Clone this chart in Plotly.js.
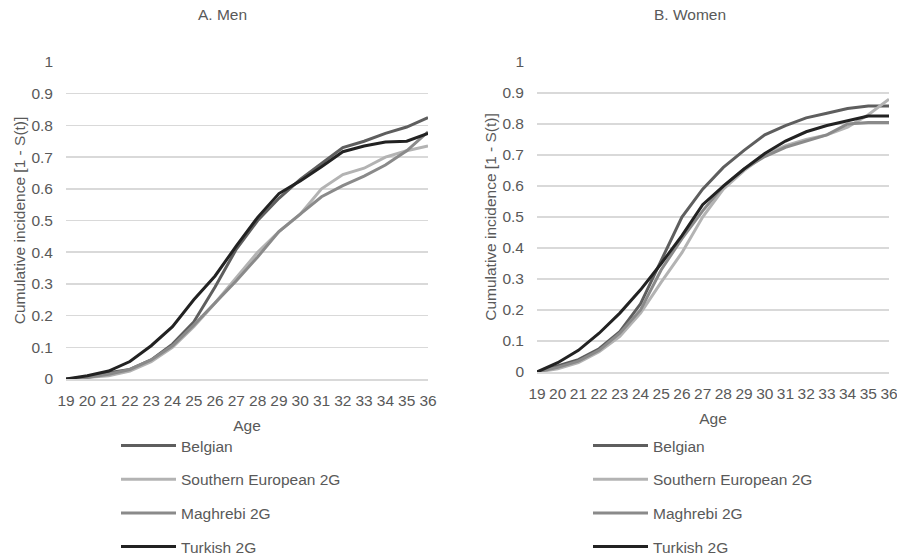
<!DOCTYPE html>
<html>
<head>
<meta charset="utf-8">
<script src="https://cdn.plot.ly/plotly-3.0.1.min.js"></script>
<style>html,body{margin:0;padding:0;background:#fff}#chart{width:897px;height:555px}</style>
</head>
<body>
<div id="chart"></div>
<script>
const ages = ["19","20","21","22","23","24","25","26","27","28","29","30","31","32","33","34","35","36"];
const seriesNames = ["Belgian", "Southern European 2G", "Maghrebi 2G", "Turkish 2G"];
const seriesColors = ["#5e5e5e", "#b3b3b3", "#8a8a8a", "#222222"];

// A. Men
const menBelgian  = [0, 0.005, 0.02, 0.03, 0.06, 0.11, 0.18, 0.29, 0.41, 0.50, 0.57, 0.63, 0.68, 0.73, 0.75, 0.775, 0.795, 0.825];
const menSouthern = [0, 0.005, 0.01, 0.025, 0.055, 0.10, 0.165, 0.24, 0.32, 0.40, 0.465, 0.52, 0.60, 0.645, 0.665, 0.70, 0.72, 0.735];
const menMaghrebi = [0, 0.005, 0.015, 0.03, 0.06, 0.105, 0.17, 0.24, 0.31, 0.385, 0.465, 0.52, 0.575, 0.61, 0.64, 0.675, 0.72, 0.78];
const menTurkish  = [0, 0.01, 0.025, 0.055, 0.105, 0.165, 0.25, 0.325, 0.42, 0.51, 0.585, 0.625, 0.67, 0.717, 0.735, 0.748, 0.75, 0.775];

// B. Women
const womenBelgian  = [0, 0.02, 0.04, 0.075, 0.13, 0.22, 0.36, 0.50, 0.59, 0.66, 0.715, 0.765, 0.795, 0.82, 0.835, 0.85, 0.858, 0.858];
const womenSouthern = [0, 0.01, 0.03, 0.065, 0.115, 0.19, 0.29, 0.385, 0.50, 0.59, 0.65, 0.70, 0.73, 0.75, 0.765, 0.79, 0.83, 0.88];
const womenMaghrebi = [0, 0.015, 0.035, 0.07, 0.125, 0.20, 0.33, 0.43, 0.52, 0.60, 0.655, 0.695, 0.725, 0.745, 0.765, 0.80, 0.805, 0.805];
const womenTurkish  = [0, 0.03, 0.07, 0.125, 0.19, 0.265, 0.35, 0.44, 0.54, 0.60, 0.655, 0.705, 0.745, 0.775, 0.795, 0.81, 0.826, 0.826];

const menData = [menBelgian, menSouthern, menMaghrebi, menTurkish];
const womenData = [womenBelgian, womenSouthern, womenMaghrebi, womenTurkish];

const traces = [];
menData.forEach((vals, i) => traces.push({
  type: 'scatter', mode: 'lines', x: ages, y: vals, name: seriesNames[i],
  xaxis: 'x', yaxis: 'y', legend: 'legend', legendgroup: 'm' + i,
  line: {color: seriesColors[i], width: 3}, hoverinfo: 'skip'
}));
womenData.forEach((vals, i) => traces.push({
  type: 'scatter', mode: 'lines', x: ages, y: vals, name: seriesNames[i],
  xaxis: 'x2', yaxis: 'y2', legend: 'legend2', legendgroup: 'w' + i,
  line: {color: seriesColors[i], width: 3}, hoverinfo: 'skip'
}));

const W = 897, H = 555;
const txt = '#595959';
const fontFam = '"Liberation Sans", Arial, sans-serif';
const xCommon = {
  type: 'category', showgrid: false, zeroline: false, showline: true,
  linecolor: '#d9d9d9', linewidth: 1.5, ticks: '', tickfont: {size: 15.5, color: txt},
  ticklabelstandoff: 7, tickangle: 0,
  title: {text: 'Age', font: {size: 15.5, color: txt}, standoff: 12}
};
const yCommon = {
  range: [0, 1.0001], dtick: 0.1, tick0: 0, showgrid: true, gridcolor: '#d9d9d9',
  gridwidth: 1.5, zeroline: false, showline: false, ticks: '',
  tickfont: {size: 15.5, color: txt}, ticklabelstandoff: 12,
  title: {text: 'Cumulative incidence [1 - S(t)]', font: {size: 15.5, color: txt}, standoff: 2}
};
const layout = {
  width: W, height: H, margin: {l: 0, r: 0, t: 0, b: 0, autoexpand: false},
  paper_bgcolor: '#fff', plot_bgcolor: '#fff',
  font: {family: fontFam, color: txt},
  showlegend: true,
  xaxis: Object.assign({}, xCommon, {domain: [66/W, 428/W], anchor: 'y', automargin: false}),
  yaxis: Object.assign({}, yCommon, {domain: [1 - 379/H, 1 - 62/H], anchor: 'x', automargin: false}),
  xaxis2: Object.assign({}, xCommon, {domain: [537/W, 889/W], anchor: 'y2', automargin: false}),
  yaxis2: Object.assign({}, yCommon, {domain: [1 - 372/H, 1 - 62/H], anchor: 'x2', automargin: false}),
  legend: {x: 116/W, y: 1 - 429/H, xanchor: 'left', yanchor: 'top', orientation: 'v',
    font: {size: 15.5, color: txt}, itemwidth: 55, tracegroupgap: 10.5, bgcolor: 'rgba(0,0,0,0)'},
  legend2: {x: 588/W, y: 1 - 429/H, xanchor: 'left', yanchor: 'top', orientation: 'v',
    font: {size: 15.5, color: txt}, itemwidth: 55, tracegroupgap: 10.5, bgcolor: 'rgba(0,0,0,0)'},
  annotations: [
    {text: 'A. Men', x: 222/W, y: 1 - 15/H, xref: 'paper', yref: 'paper', showarrow: false,
     xanchor: 'center', yanchor: 'middle', font: {size: 15.5, color: txt}},
    {text: 'B. Women', x: 690/W, y: 1 - 15/H, xref: 'paper', yref: 'paper', showarrow: false,
     xanchor: 'center', yanchor: 'middle', font: {size: 15.5, color: txt}}
  ]
};
Plotly.newPlot('chart', traces, layout, {displayModeBar: false, staticPlot: true});
</script>
</body>
</html>
